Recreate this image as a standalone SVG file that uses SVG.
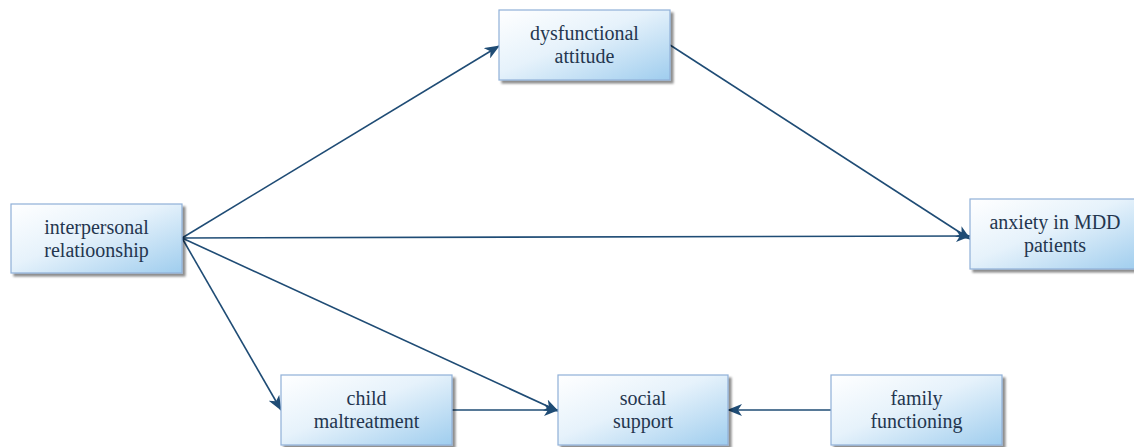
<svg xmlns="http://www.w3.org/2000/svg" width="1134" height="447" viewBox="0 0 1134 447">
<defs>
<linearGradient id="g" x1="0" y1="0" x2="1" y2="1">
<stop offset="0" stop-color="#ffffff"/>
<stop offset="0.45" stop-color="#e6f2fb"/>
<stop offset="1" stop-color="#9fcdee"/>
</linearGradient>
<marker id="ah" viewBox="0 0 15 12" refX="14" refY="6" markerWidth="15" markerHeight="12" markerUnits="userSpaceOnUse" orient="auto">
<path d="M0,0 L15,6 L0,12 L4,6 z" fill="#1f4c75"/>
</marker>
<filter id="sh" x="-5%" y="-5%" width="115%" height="120%">
<feGaussianBlur in="SourceAlpha" stdDeviation="1"/>
<feOffset dx="3" dy="3"/>
<feComponentTransfer><feFuncA type="linear" slope="0.45"/></feComponentTransfer>
<feMerge><feMergeNode/><feMergeNode in="SourceGraphic"/></feMerge>
</filter>
</defs>
<style>
.box{fill:url(#g);stroke:#8fb0d8;stroke-width:1.2;filter:url(#sh)}
text{font-family:"Liberation Serif","Times New Roman",serif;font-size:20px;fill:#24364f;text-anchor:middle}
.c{stroke:#1f4c75;stroke-width:1.6;fill:none;marker-end:url(#ah)}
</style>
<rect width="1134" height="447" fill="#ffffff"/>
<g id="connectors">
<line class="c" x1="182" y1="238" x2="499" y2="46"/>
<line class="c" x1="670" y1="45" x2="970" y2="239"/>
<line class="c" x1="182" y1="238" x2="970" y2="236"/>
<line class="c" x1="182" y1="238" x2="281" y2="410"/>
<line class="c" x1="182" y1="238" x2="558" y2="411"/>
<line class="c" x1="452" y1="410" x2="558" y2="410"/>
<line class="c" x1="831" y1="410" x2="728" y2="410"/>
</g>
<g id="dysfunctional">
<rect class="box" x="499" y="10" width="171" height="70"/>
<text x="584.5" y="40" font-family="Liberation Serif">dysfunctional</text>
<text x="584.5" y="63" font-family="Liberation Serif">attitude</text>
</g>
<g id="interpersonal">
<rect class="box" x="11" y="204" width="171" height="69"/>
<text x="96.5" y="234" font-family="Liberation Serif">interpersonal</text>
<text x="96.5" y="257" font-family="Liberation Serif">relatioonship</text>
</g>
<g id="anxiety">
<rect class="box" x="970" y="199" width="171" height="70"/>
<text x="1055" y="229" font-family="Liberation Serif">anxiety in MDD</text>
<text x="1055" y="252" font-family="Liberation Serif">patients</text>
</g>
<g id="child">
<rect class="box" x="281" y="375" width="171" height="70"/>
<text x="366.5" y="405" font-family="Liberation Serif">child</text>
<text x="366.5" y="428" font-family="Liberation Serif">maltreatment</text>
</g>
<g id="social">
<rect class="box" x="558" y="375" width="170" height="70"/>
<text x="643" y="405" font-family="Liberation Serif">social</text>
<text x="643" y="428" font-family="Liberation Serif">support</text>
</g>
<g id="family">
<rect class="box" x="831" y="375" width="171" height="70"/>
<text x="916.5" y="405" font-family="Liberation Serif">family</text>
<text x="916.5" y="428" font-family="Liberation Serif">functioning</text>
</g>
</svg>
